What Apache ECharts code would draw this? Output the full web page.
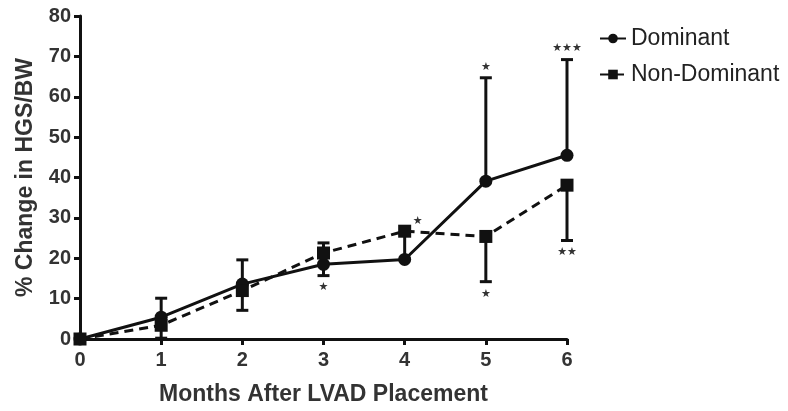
<!DOCTYPE html>
<html>
<head>
<meta charset="utf-8">
<script src="https://cdn.jsdelivr.net/npm/echarts@6/dist/echarts.min.js"></script>
<style>
html, body { margin: 0; padding: 0; background: #fff; }
#main { width: 788px; height: 411px; }
</style>
</head>
<body>
<div id="main"></div>
<script>
// months after placement
var months = [0, 1, 2, 3, 4, 5, 6];

// mean % change
var dominant = [0, 5.4, 13.6, 18.5, 19.7, 39.1, 45.5];
var nonDominant = [0, 3.4, 12.0, 21.3, 26.7, 25.4, 38.1];

// end of the (one sided) error bar, null = none drawn
var dominantErrEnd = [null, 10.1, 19.6, 15.7, 26.0, 64.7, 69.2];
var nonDominantErrEnd = [null, 0.2, 7.1, 23.8, null, 14.2, 24.4];

// significance marks: month, value they sit at, text
var sigMonth = [3, 4, 5, 5, 6, 6];
var sigValue = [15.7, 26.7, 64.7, 14.2, 69.2, 24.4];
var sigText = ['*', '*', '*', '*', '***', '**'];
var sigBelow = [true, false, false, true, false, true];

var FONT = '"Liberation Sans", Arial, sans-serif';

function pairs(xs, ys) {
    var out = [];
    for (var i = 0; i < xs.length; i++) out.push([xs[i], ys[i]]);
    return out;
}

function errData(means, ends) {
    var out = [];
    for (var i = 0; i < months.length; i++) {
        if (ends[i] != null) out.push([months[i], means[i], ends[i]]);
    }
    return out;
}

function renderErr(params, api) {
    var p0 = api.coord([api.value(0), api.value(1)]);
    var p1 = api.coord([api.value(0), api.value(2)]);
    var half = 6;
    var st = { stroke: '#111', lineWidth: 3 };
    return {
        type: 'group',
        children: [
            { type: 'line', shape: { x1: p0[0], y1: p0[1], x2: p1[0], y2: p1[1] }, style: st },
            { type: 'line', shape: { x1: p1[0] - half, y1: p1[1], x2: p1[0] + half, y2: p1[1] }, style: st }
        ]
    };
}

var sigData = [];
for (var i = 0; i < sigMonth.length; i++) {
    sigData.push([sigMonth[i], sigValue[i], sigText[i], sigBelow[i] ? 1 : 0]);
}

function renderSig(params, api) {
    var p = api.coord([api.value(0), api.value(1)]);
    var below = api.value(3) == 1;
    // the paper prints the asterisks as small stars
    var txt = sigData[params.dataIndex][2].split('').map(function () { return '\u2605'; }).join('');
    var dx = 0, dy = below ? 12 : -11;
    if (sigData[params.dataIndex][0] == 4) { dx = 13; dy = -10; }
    return {
        type: 'text',
        x: p[0] + dx,
        y: p[1] + dy,
        style: {
            text: txt,
            fill: '#333',
            font: '11px "DejaVu Sans", sans-serif',
            align: 'center',
            verticalAlign: 'middle'
        }
    };
}

var chart = echarts.init(document.getElementById('main'));

var option = {
    animation: false,
    backgroundColor: '#fff',
    grid: { left: 80, right: 221, top: 16, bottom: 69 },
    legend: {
        left: 594,
        top: 22,
        orient: 'vertical',
        itemGap: 13,
        itemWidth: 26,
        itemHeight: 12,
        textStyle: { fontSize: 23, color: '#222', fontFamily: FONT },
        data: ['Dominant', 'Non-Dominant']
    },
    xAxis: {
        type: 'value',
        min: 0,
        max: 6,
        interval: 1,
        name: 'Months After LVAD Placement',
        nameLocation: 'middle',
        nameGap: 44,
        nameTextStyle: { fontSize: 23, fontWeight: 'bold', color: '#333', fontFamily: FONT },
        axisLine: { lineStyle: { color: '#111', width: 3 } },
        axisTick: { length: 6, lineStyle: { color: '#111', width: 3 } },
        axisLabel: { fontSize: 20, fontWeight: 'bold', color: '#333', margin: 11, fontFamily: FONT },
        splitLine: { show: false }
    },
    yAxis: {
        type: 'value',
        min: 0,
        max: 80,
        interval: 10,
        name: '% Change in HGS/BW',
        nameLocation: 'middle',
        nameGap: 43,
        nameTextStyle: { fontSize: 23, fontWeight: 'bold', color: '#333', fontFamily: FONT },
        axisLine: { show: true, lineStyle: { color: '#111', width: 3 } },
        axisTick: { show: true, length: 6, lineStyle: { color: '#111', width: 3 } },
        axisLabel: { fontSize: 20, fontWeight: 'bold', color: '#333', margin: 9, fontFamily: FONT },
        splitLine: { show: false }
    },
    series: [
        {
            name: 'Dominant-err',
            type: 'custom',
            renderItem: renderErr,
            data: errData(dominant, dominantErrEnd),
            z: 1,
            silent: true
        },
        {
            name: 'Non-Dominant-err',
            type: 'custom',
            renderItem: renderErr,
            data: errData(nonDominant, nonDominantErrEnd),
            z: 1,
            silent: true
        },
        {
            name: 'Dominant',
            type: 'line',
            data: pairs(months, dominant),
            symbol: 'circle',
            symbolSize: 13,
            color: '#111',
            lineStyle: { color: '#111', width: 3 },
            itemStyle: { color: '#111' },
            z: 3
        },
        {
            name: 'Non-Dominant',
            type: 'line',
            data: pairs(months, nonDominant),
            symbol: 'rect',
            symbolSize: 13,
            color: '#111',
            lineStyle: { color: '#111', width: 3, type: [9, 6] },
            itemStyle: { color: '#111' },
            z: 3
        },
        {
            name: 'sig',
            type: 'custom',
            renderItem: renderSig,
            data: sigData,
            z: 4,
            silent: true
        }
    ]
};

chart.setOption(option);
</script>
</body>
</html>
